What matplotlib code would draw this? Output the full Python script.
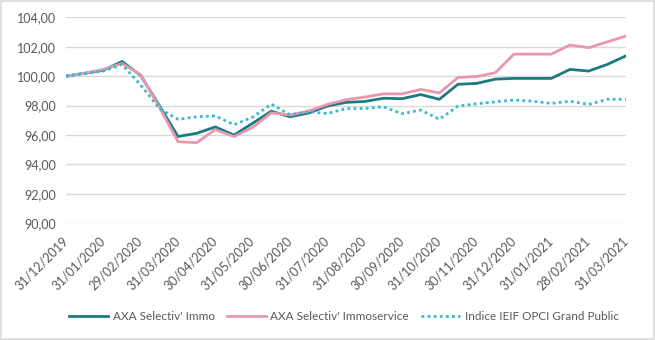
import matplotlib.pyplot as plt
import numpy as np
from matplotlib.patches import Rectangle

plt.rcParams['font.family'] = ['Lato', 'DejaVu Sans']

# valeurs liquidatives base 100, pas bimensuel
dates = ["31/12/2019", "31/01/2020", "29/02/2020", "31/03/2020", "30/04/2020",
         "31/05/2020", "30/06/2020", "31/07/2020", "31/08/2020", "30/09/2020",
         "31/10/2020", "30/11/2020", "31/12/2020", "31/01/2021", "28/02/2021",
         "31/03/2021"]

immo = [100.0, 100.2, 100.4, 101.0, 100.05, 98.0, 95.9, 96.12, 96.55, 96.0,
        96.8, 97.62, 97.24, 97.5, 97.97, 98.22, 98.28, 98.5, 98.47, 98.75,
        98.43, 99.45, 99.51, 99.8, 99.85, 99.85, 99.85, 100.46, 100.35, 100.8,
        101.38]
immoservice = [100.0, 100.2, 100.45, 100.87, 100.1, 97.9, 95.55, 95.48, 96.37, 95.9,
               96.52, 97.51, 97.36, 97.63, 98.08, 98.4, 98.58, 98.8, 98.8, 99.1,
               98.86, 99.91, 99.98, 100.23, 101.5, 101.5, 101.5, 102.12, 101.94, 102.33,
               102.73]
ieif = [100.0, 100.18, 100.35, 100.8, 99.4, 97.8, 97.07, 97.24, 97.3, 96.7,
        97.22, 98.1, 97.38, 97.58, 97.46, 97.8, 97.8, 97.92, 97.45, 97.7,
        97.07, 97.97, 98.12, 98.26, 98.38, 98.3, 98.15, 98.3, 98.08, 98.43,
        98.43]

x = np.arange(len(immo))

fig = plt.figure(figsize=(6.55, 3.4), dpi=100)
ax = fig.add_axes([0.1008, 0.3432, 0.8549, 0.6058])

ax.plot(x, immo, color='#1b7a82', lw=2.0, label="AXA Selectiv' Immo")
ax.plot(x, immoservice, color='#e897ac', lw=2.0, label="AXA Selectiv' Immoservice")
ax.plot(x, ieif, color='#38b9d3', lw=2.0, ls=(0, (1, 1.2)), label="Indice IEIF OPCI Grand Public")

ax.set_xlim(0, len(immo) - 1)
ax.set_ylim(90, 104)
ax.set_yticks(np.arange(90, 104.1, 2))
ax.set_yticklabels([f"{v:.2f}".replace('.', ',') for v in np.arange(90, 104.1, 2)])
ax.set_xticks(x[::2])
ax.set_xticklabels(dates, rotation=45, ha='right', va='center', rotation_mode='anchor')

ax.grid(axis='y', color='#d9d9d9', lw=1.0)
ax.set_axisbelow(True)
for s in ax.spines.values():
    s.set_visible(False)
ax.tick_params(axis='both', length=0, colors='#595959', labelsize=9)
ax.tick_params(axis='y', pad=7)
ax.tick_params(axis='x', pad=11)
for lab in ax.get_yticklabels() + ax.get_xticklabels():
    lab.set_clip_on(False)

fig.legend(loc='center', bbox_to_anchor=(0.525, 0.07), ncol=3, frameon=False,
           fontsize=8.5, handlelength=3.3, columnspacing=1.0, handletextpad=0.4,
           labelcolor='#595959')

fig.patches.append(Rectangle((0.002, 0.003), 0.996, 0.994, transform=fig.transFigure,
                             fill=False, edgecolor='#d9d9d9', lw=1.2))

fig.savefig('out.png', dpi=100)
